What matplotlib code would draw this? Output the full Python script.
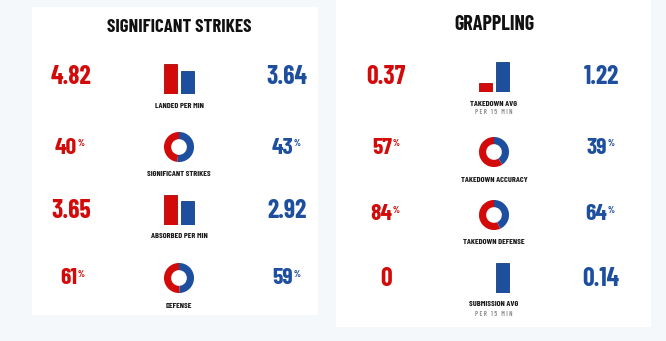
import matplotlib
matplotlib.use("Agg")
import matplotlib.pyplot as plt
from matplotlib.patches import Rectangle

# fighter stats, red corner vs blue corner
strikes_labels = ["LANDED PER MIN", "SIGNIFICANT STRIKES", "ABSORBED PER MIN", "DEFENSE"]
strikes_notes = ["", "", "", ""]
strikes_kinds = ["bar", "pct", "bar", "pct"]
strikes_red = [4.82, 40, 3.65, 61]
strikes_blue = [3.64, 43, 2.92, 59]

grappling_labels = ["TAKEDOWN AVG", "TAKEDOWN ACCURACY", "TAKEDOWN DEFENSE", "SUBMISSION AVG"]
grappling_notes = ["PER 15 MIN", "", "", "PER 15 MIN"]
grappling_kinds = ["bar", "pct", "pct", "bar"]
grappling_red = [0.37, 57, 84, 0]
grappling_blue = [1.22, 39, 64, 0.14]

RED = "#d20a0a"
BLUE = "#1d4f9e"
BG = "#f4f8fa"
FONT = ["Barlow Condensed", "DejaVu Sans"]

W, H = 666, 341
fig = plt.figure(figsize=(W / 100, H / 100), dpi=100)
fig.patch.set_facecolor(BG)

base = fig.add_axes([0, 0, 1, 1])
base.set_xlim(0, W)
base.set_ylim(H, 0)
base.axis("off")


def px_axes(x0, y0, w, h):
    ax = fig.add_axes([x0 / W, 1 - (y0 + h) / H, w / W, h / H])
    ax.axis("off")
    return ax


def draw_bars(cx, top, bottom, red, blue):
    ax = px_axes(cx - 17, top, 34, bottom - top)
    ax.bar([0, 1], [red, blue], width=0.78, color=[RED, BLUE],
           edgecolor=["#a80808", "#163f80"], linewidth=0.6)
    ax.set_xlim(-0.5, 1.5)
    ax.set_ylim(0, max(red, blue))


def draw_donut(cx, cy, red, blue):
    ax = px_axes(cx - 16, cy - 16, 32, 32)
    ax.pie([red, blue], colors=[RED, BLUE], startangle=90, counterclock=True,
           radius=0.94, wedgeprops=dict(width=0.45, linewidth=0))
    ax.set_xlim(-1, 1)
    ax.set_ylim(-1, 1)
    ax.set_aspect("equal")


def draw_value(x, y, value, kind, color):
    txt = f"{value:g}"
    y = y + 2.5  # va="center" sits a little high for digits
    if kind == "pct":
        base.text(x + 6, y, txt, color=color, fontsize=17, family=FONT,
                  weight="bold", ha="right", va="center")
        base.text(x + 7, y - 8.5, "%", color=color, fontsize=6.5, family=FONT,
                  weight="bold", ha="left", va="top")
    else:
        base.text(x, y, txt, color=color, fontsize=18.5, family=FONT,
                  weight="bold", ha="center", va="center")


def draw_panel(title, title_y, title_size, cx, xl, xr, rows, labels, notes, kinds, reds, blues):
    base.text(cx, title_y + 2, title, fontsize=title_size, family=FONT, weight="bold",
              color="#111111", ha="center", va="center")
    for (vy, gy, ly), lab, note, kind, r, b in zip(rows, labels, notes, kinds, reds, blues):
        draw_value(xl, vy, r, kind, RED)
        draw_value(xr, vy, b, kind, BLUE)
        if kind == "bar":
            draw_bars(cx, gy[0], gy[1], r, b)
        else:
            draw_donut(cx, gy, r, b)
        base.text(cx, ly + 0.5, lab, fontsize=6, family=FONT, weight="bold",
                  color="#1a1a1a", ha="center", va="center")
        if note:
            base.text(cx, ly + 9.5, " ".join(note), fontsize=4.8, family=FONT,
                      weight="semibold", color="#8a8a8a", ha="center", va="center")


# white cards
base.add_patch(Rectangle((32, 7), 286, 308, facecolor="white", edgecolor="none"))
base.add_patch(Rectangle((336, -1), 315, 328, facecolor="white", edgecolor="none"))

# (value y, graphic position, label y) in pixels
left_rows = [(75, (64, 94), 105), (145, 147, 174), (208, (195, 225), 236), (276, 278, 305)]
right_rows = [(74, (62, 92), 103), (145, 152, 179), (212, 215, 242), (276, (263, 293), 304)]

draw_panel("SIGNIFICANT STRIKES", 25, 13.5, 179, 71, 287, left_rows,
           strikes_labels, strikes_notes, strikes_kinds, strikes_red, strikes_blue)
draw_panel("GRAPPLING", 22, 14.5, 494, 386, 601, right_rows,
           grappling_labels, grappling_notes, grappling_kinds, grappling_red, grappling_blue)

fig.savefig("out.png", dpi=100, facecolor=BG)
